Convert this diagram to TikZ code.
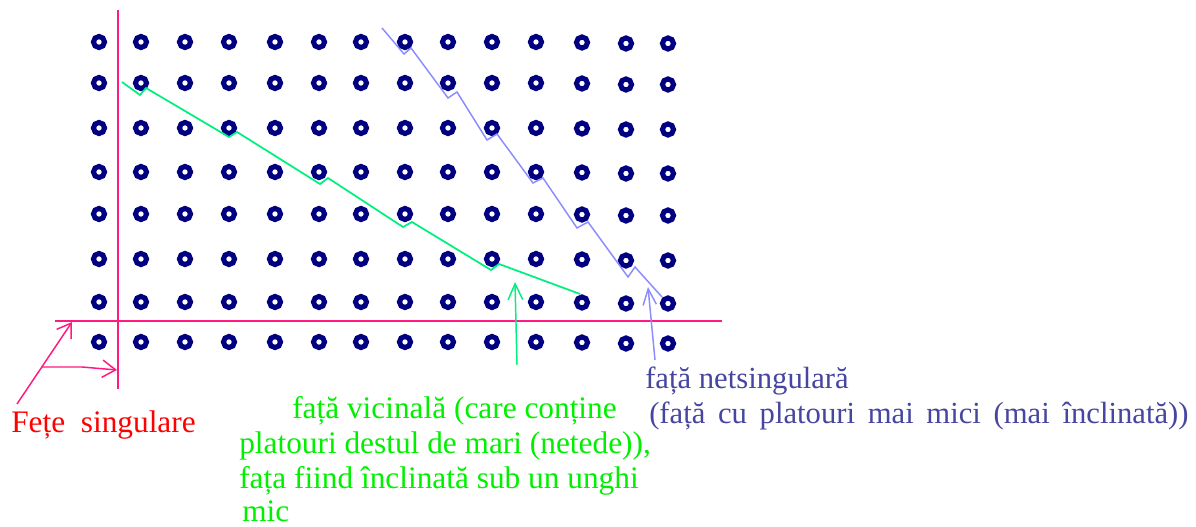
\documentclass[tikz,border=0pt]{standalone}
\usepackage{fontspec}
\setmainfont{Liberation Serif}
\usetikzlibrary{arrows.meta}
\definecolor{dotc}{RGB}{0,0,128}
\definecolor{pinkc}{RGB}{255,25,128}
\definecolor{redc}{RGB}{255,0,0}
\definecolor{greentxt}{RGB}{0,240,0}
\definecolor{greenln}{RGB}{0,240,128}
\definecolor{blueln}{RGB}{140,140,255}
\definecolor{bluetxt}{RGB}{70,70,160}
\begin{document}
\begin{tikzpicture}[x=0.75pt,y=-0.75pt,
  dot/.style={circle,draw=dotc,line width=3.8pt,minimum size=8.3pt,inner sep=0pt},
  lbl/.style={anchor=base west,inner sep=0pt,font=\fontsize{23.5pt}{27pt}\selectfont},
  blbl/.style={anchor=base west,inner sep=0pt,font=\fontsize{23pt}{27pt}\selectfont},
  axis/.style={draw=pinkc,line width=1.6pt},
  pinkarrow/.style={draw=pinkc,line width=1.1pt,-{Straight Barb[length=10pt,width=13pt]}},
  stairg/.style={draw=greenln,line width=1.3pt,line join=miter},
  stairb/.style={draw=blueln,line width=1.1pt,line join=miter},
  garrow/.style={draw=greenln,line width=1.1pt,-{Straight Barb[length=12pt,width=11pt]}},
  barrow/.style={draw=blueln,line width=1.1pt,-{Straight Barb[length=12pt,width=10pt]}}]
\useasboundingbox (0,0) rectangle (1196,527);
\fill[white] (0,0) rectangle (1196,527);
% lattice of atoms
\foreach \c/\x/\o in {1/99/0,2/141/0,3/185/0,4/229/0,5/275/0,6/319/0,7/361/0,8/405/0,9/448/0,10/492/0,11/536/0,12/582/0.5,13/626/1.5,14/668/1.5}{
  \foreach \r/\y in {1/42,2/83,3/128,4/172,5/214,6/259,7/302,8/342}{
    \node[dot] (d\c-\r) at (\x,\y+\o) {};
  }
}
% singular faces (pink lines)
\coordinate (vtop) at (118,10);
\coordinate (vbot) at (118,389);
\coordinate (hleft) at (55,321);
\coordinate (hright) at (722,321);
\draw[axis] (vtop) -- (vbot);
\draw[axis] (hleft) -- (hright);
% vicinal face (green staircase)
\draw[stairg] (122,82) -- (140,95) -- (146,88) -- (229,137) -- (237,132) -- (320,184) -- (328,178)
  -- (403,227) -- (412,222) -- (491,270) -- (499,264) -- (580,294);
% non-singular face (blue staircase)
\draw[stairb] (382,28) -- (404,54) -- (411,48) -- (448,98) -- (457,92) -- (487,140) -- (497,134)
  -- (533,183) -- (543,178) -- (577,228) -- (588,222) -- (628,277) -- (635,267) -- (662,297);
% labels
\node[lbl,text=redc] (tsing) at (11,432) {Fețe\ \ singulare};
\node[lbl,text=greentxt] (tvic1) at (292,418) {față vicinală (care conține};
\node[lbl,text=greentxt] (tvic2) at (239,453) {platouri destul de mari (netede)),};
\node[lbl,text=greentxt] (tvic3) at (239,488) {fața fiind înclinată sub un unghi};
\node[lbl,text=greentxt] (tvic4) at (242,521) {mic};
\node[blbl,text=bluetxt] (tnet1) at (645,388) {față netsingulară};
\node[blbl,text=bluetxt] (tnet2) at (649,423) {\spaceskip=9.5pt plus 1pt (față cu platouri mai mici (mai înclinată))};
% arrows
\coordinate (ps) at (17,404);
\coordinate (pt1) at (72,322);
\coordinate (pm) at (42,367);
\coordinate (pk) at (82,367);
\coordinate (pt2) at (117,370);
\draw[pinkarrow] (ps) -- (pt1);
\draw[pinkarrow] (pm) -- (pk) -- (pt2);
\coordinate (gs) at (517,365);
\coordinate (gt) at (515,282);
\draw[garrow] (gs) -- (gt);
\coordinate (bs) at (655,360);
\coordinate (bt) at (648,287);
\draw[barrow] (bs) -- (bt);
\end{tikzpicture}
\end{document}
